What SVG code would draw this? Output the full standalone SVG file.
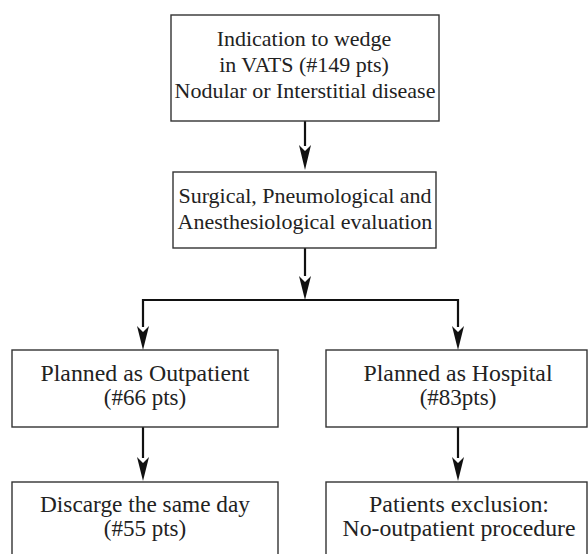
<svg xmlns="http://www.w3.org/2000/svg" width="588" height="554" viewBox="0 0 588 554">
<style>
.box{fill:#fff;stroke:#333;stroke-width:1.4}
.t{font-family:"Liberation Serif","Times New Roman",serif;font-size:23px;fill:#222;text-anchor:middle}
.s{font-size:22px}
.c{fill:none;stroke:#111;stroke-width:2.2}
.h{fill:#111}
</style>
<rect width="588" height="554" fill="#fff"/>
<g id="connectors">
<path class="c" d="M305,121 V146"/>
<polygon class="h" points="299,145 305,151 311,145 305,170"/>
<path class="c" d="M305,248 V276"/>
<polygon class="h" points="299,276 305,282 311,276 305,300"/>
<path class="c" d="M143,327 V300 H458 V327"/>
<polygon class="h" points="137,326 143,332 149,326 143,350"/>
<polygon class="h" points="452,326 458,332 464,326 458,350"/>
<path class="c" d="M143,427 V458"/>
<polygon class="h" points="137,457 143,463 149,457 143,481"/>
<path class="c" d="M458,427 V458"/>
<polygon class="h" points="452,457 458,463 464,457 458,481"/>
</g>
<g id="n1">
<rect class="box" x="171" y="15" width="268" height="106"/>
<text class="t s" x="304" y="46">Indication to wedge</text>
<text class="t s" x="304" y="72">in VATS (#149 pts)</text>
<text class="t s" x="305" y="98">Nodular or Interstitial disease</text>
</g>
<g id="n2">
<rect class="box" x="173" y="172" width="263" height="76"/>
<text class="t s" x="305" y="203">Surgical, Pneumological and</text>
<text class="t s" x="305" y="229">Anesthesiological evaluation</text>
</g>
<g id="n3">
<rect class="box" x="12" y="350" width="266" height="77"/>
<text class="t" x="145" y="381" textLength="209" lengthAdjust="spacingAndGlyphs">Planned as Outpatient</text>
<text class="t" x="145" y="405">(#66 pts)</text>
</g>
<g id="n4">
<rect class="box" x="326" y="350" width="261" height="77"/>
<text class="t" x="458" y="381" textLength="189" lengthAdjust="spacingAndGlyphs">Planned as Hospital</text>
<text class="t" x="458" y="405">(#83pts)</text>
</g>
<g id="n5">
<rect class="box" x="12" y="482" width="266" height="90"/>
<text class="t" x="145" y="512" textLength="210" lengthAdjust="spacingAndGlyphs">Discarge the same day</text>
<text class="t" x="145" y="536">(#55 pts)</text>
</g>
<g id="n6">
<rect class="box" x="326" y="482" width="261" height="90"/>
<text class="t" x="459" y="512" textLength="180" lengthAdjust="spacingAndGlyphs">Patients exclusion:</text>
<text class="t" x="459" y="536" textLength="233" lengthAdjust="spacingAndGlyphs">No-outpatient procedure</text>
</g>
</svg>
